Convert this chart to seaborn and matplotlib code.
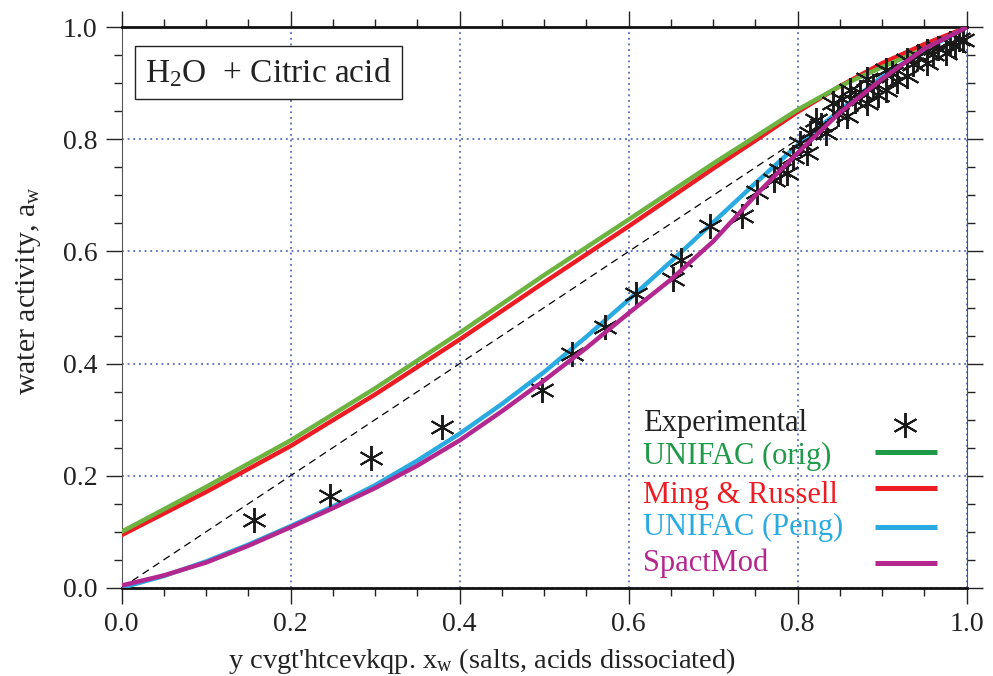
import numpy as np
import pandas as pd
import matplotlib
matplotlib.use("Agg")
import matplotlib.pyplot as plt
from matplotlib.ticker import MultipleLocator, FormatStrFormatter
import seaborn as sns

# experimental points (water fraction, water activity)
exp_x = [0.157, 0.246, 0.295, 0.379, 0.497, 0.533, 0.572, 0.609, 0.652, 0.662,
         0.696, 0.734, 0.752,
         0.772, 0.779, 0.787, 0.795, 0.803, 0.811, 0.815, 0.822, 0.828, 0.834,
         0.842, 0.848, 0.852, 0.858, 0.862, 0.868, 0.874, 0.882, 0.882, 0.889,
         0.895, 0.905, 0.905, 0.912, 0.918, 0.929, 0.929, 0.936, 0.942, 0.953,
         0.953, 0.960, 0.966, 0.976, 0.980, 0.986, 0.991, 0.996]
exp_y = [0.121, 0.164, 0.231, 0.286, 0.353, 0.417, 0.465, 0.524, 0.551, 0.585,
         0.646, 0.664, 0.707,
         0.728, 0.745, 0.740, 0.768, 0.794, 0.776, 0.812, 0.835, 0.826, 0.811,
         0.865, 0.846, 0.872, 0.841, 0.889, 0.868, 0.884, 0.907, 0.865, 0.895,
         0.880, 0.924, 0.889, 0.918, 0.905, 0.942, 0.913, 0.935, 0.948, 0.957,
         0.937, 0.952, 0.963, 0.954, 0.972, 0.966, 0.980, 0.978]

# model curves
uo_x = [0.0, 0.1, 0.2, 0.3, 0.4, 0.5, 0.6, 0.7, 0.75, 0.8, 0.85, 0.9, 0.95, 1.0]
uo_y = [0.100, 0.180, 0.263, 0.356, 0.455, 0.558, 0.657, 0.757, 0.805, 0.853, 0.895, 0.929, 0.962, 1.0]

mr_x = [0.0, 0.1, 0.2, 0.3, 0.4, 0.5, 0.6, 0.7, 0.75, 0.8, 0.85, 0.9, 0.95, 1.0]
mr_y = [0.094, 0.171, 0.253, 0.345, 0.443, 0.545, 0.645, 0.748, 0.798, 0.849, 0.895, 0.936, 0.970, 1.0]

up_x = [0.0, 0.05, 0.1, 0.15, 0.2, 0.25, 0.3, 0.35, 0.4, 0.45, 0.5, 0.55, 0.6, 0.65,
        0.7, 0.75, 0.8, 0.85, 0.9, 0.95, 1.0]
up_y = [0.0, 0.021, 0.047, 0.077, 0.110, 0.145, 0.183, 0.227, 0.275, 0.328, 0.385, 0.448,
        0.514, 0.582, 0.652, 0.722, 0.790, 0.852, 0.912, 0.960, 1.0]

sm_x = [0.0, 0.05, 0.1, 0.15, 0.2, 0.25, 0.3, 0.35, 0.4, 0.45, 0.5, 0.55, 0.6, 0.65,
        0.7, 0.75, 0.8, 0.85, 0.9, 0.95, 1.0]
sm_y = [0.004, 0.022, 0.045, 0.075, 0.108, 0.142, 0.178, 0.218, 0.263, 0.315, 0.370, 0.428,
        0.490, 0.550, 0.618, 0.700, 0.776, 0.848, 0.908, 0.962, 1.0]

labels = ["Experimental", "UNIFAC (orig)", "Ming & Russell", "UNIFAC (Peng)", "SpactMod"]

sns.set_style("ticks")
plt.rcParams["font.family"] = ["Liberation Serif", "DejaVu Serif"]
plt.rcParams["mathtext.fontset"] = "custom"
plt.rcParams["mathtext.rm"] = "Liberation Serif"
plt.rcParams["mathtext.it"] = "Liberation Serif:italic"

fig = plt.figure(figsize=(9.93, 6.76), dpi=100)
ax = fig.add_axes([0.1226, 0.1306, 0.8509, 0.8290])

green_line = "#6cb33f"
green_txt = "#1f9a48"
red = "#ed1c24"
blue = "#29abe2"
magenta = "#b3278f"
ink = "#222222"
star = (6, 2, 0)

ax.plot([0, 1], [0, 1], color="black", lw=0.9, dashes=(6, 4), zorder=2)

sns.lineplot(x=mr_x, y=mr_y, color=red, lw=3.2, ax=ax, zorder=3)
sns.lineplot(x=uo_x, y=uo_y, color=green_line, lw=3.2, ax=ax, zorder=4)
sns.lineplot(x=up_x, y=up_y, color=blue, lw=3.2, ax=ax, zorder=5)
ax.plot(exp_x, exp_y, ls="none", marker=star, ms=18, mew=1.4,
        color="#1a1a1a", zorder=6, clip_on=False)
sns.lineplot(x=sm_x, y=sm_y, color=magenta, lw=3.2, ax=ax, zorder=7)

ax.set_xlim(0, 1)
ax.set_ylim(0, 1)
ax.xaxis.set_major_locator(MultipleLocator(0.2))
ax.yaxis.set_major_locator(MultipleLocator(0.2))
ax.xaxis.set_minor_locator(MultipleLocator(0.05))
ax.yaxis.set_minor_locator(MultipleLocator(0.05))
ax.xaxis.set_major_formatter(FormatStrFormatter("%.1f"))
ax.yaxis.set_major_formatter(FormatStrFormatter("%.1f"))

ax.grid(True, which="major", color="#3a52b0", ls=(0, (1.2, 2.5)), lw=1.1)
ax.tick_params(which="both", direction="out", top=True, right=True,
               labelsize=20, colors=ink, pad=6)
ax.tick_params(which="major", length=11.5, width=1.0)
ax.tick_params(which="minor", length=5.5, width=1.0)
for side in ["top", "bottom"]:
    ax.spines[side].set_linewidth(2.0)
    ax.spines[side].set_color("#111111")
for side in ["left", "right"]:
    ax.spines[side].set_linewidth(0.8)
    ax.spines[side].set_color("#555555")

ax.set_ylabel("water activity, a$_\\mathregular{w}$", fontsize=21.5, color=ink)
ax.yaxis.set_label_coords(-0.093, 0.53)
ax.set_xlabel("y cvgt'htcevkqp. x$_\\mathregular{w}$ (salts, acids dissociated)",
              fontsize=20.5, color=ink)
ax.xaxis.set_label_coords(0.426, -0.104)

ax.text(0.1737, 0.9188, "H$_\\mathregular{2}$O  + Citric acid", transform=ax.transAxes,
        fontsize=24, color=ink, ha="center", va="center",
        bbox=dict(boxstyle="square,pad=0.3", fc="white", ec=ink, lw=1.0))

# hand-placed legend: text left-aligned, keys on the right
text_colors = [ink, green_txt, red, blue, magenta]
text_base = [0.2795, 0.2206, 0.1516, 0.0936, 0.0303]
key_y = [0.2898, 0.2426, 0.1773, 0.1088, 0.0435]
for lab, col, ty in zip(labels, text_colors, text_base):
    ax.text(0.6175, ty, lab, transform=ax.transAxes, fontsize=22,
            color=col, ha="left", va="baseline", zorder=8)
ax.plot([0.9269], [key_y[0]], transform=ax.transAxes, ls="none", marker=star,
        ms=18, mew=1.4, color="#1a1a1a", zorder=8)
for col, ky in zip([green_txt, red, blue, magenta], key_y[1:]):
    ax.plot([0.8914, 0.9648], [ky, ky], transform=ax.transAxes, color=col,
            lw=3.6, solid_capstyle="butt", zorder=8)

fig.savefig("out.png", dpi=100)
